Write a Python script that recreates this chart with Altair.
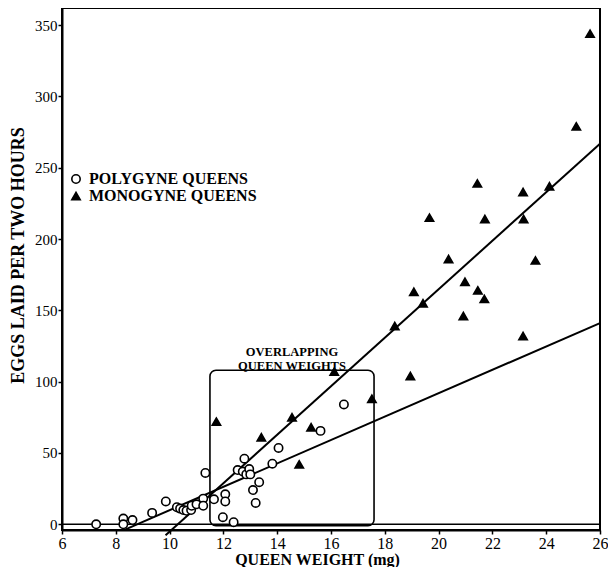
import altair as alt
import pandas as pd

# ---- data ----
poly_weight = [7.27, 8.28, 8.28, 8.62, 9.35, 9.86, 10.27, 10.39, 10.51, 10.63, 10.80, 10.82,
               11.00, 11.25, 11.25, 11.33, 11.65, 11.98, 12.07, 12.07, 12.38, 12.53, 12.72,
               12.85, 12.96, 13.00, 12.78, 13.10, 13.20, 13.33, 13.82, 14.05, 15.61, 16.48]
poly_eggs = [0, 4, 0, 3, 8, 16, 12, 11, 10, 9.5, 10, 13,
             14, 18, 13, 36, 17.5, 5, 21, 16, 1.5, 38, 37,
             35, 38.7, 35, 46, 24, 15, 29.5, 42.5, 53.5, 65.5, 84]

mono_weight = [11.74, 13.41, 14.55, 14.82, 15.26, 16.12, 17.52, 18.37, 18.95, 19.08, 19.42,
               19.66, 20.37, 20.92, 20.98, 21.44, 21.46, 21.70, 21.72, 23.14, 23.14, 23.16,
               23.60, 24.12, 25.12, 25.63]
mono_eggs = [72, 61, 75, 42, 68, 107, 88, 139, 104, 163, 155,
             215, 186, 146, 170, 239, 164, 158, 214, 233, 132, 214,
             185, 237, 279, 344]

groups = ["POLYGYNE QUEENS", "MONOGYNE QUEENS"]

# fitted lines (slope, intercept, x range)
fit_group = ["POLYGYNE QUEENS", "MONOGYNE QUEENS"]
fit_slope = [8.2, 17.0]
fit_intercept = [-72.1, -175.2]
fit_x_start = [8.3, 9.85]
fit_x_end = [26.0, 26.0]

# overlapping-weights box
box_x = [11.5]
box_x2 = [17.6]
box_y = [-1]
box_y2 = [108]
box_label = ["OVERLAPPING\nQUEEN WEIGHTS"]

x_ticks = list(range(6, 27))
y_ticks = [0, 50, 100, 150, 200, 250, 300, 350]

# ---- tables ----
pts = pd.DataFrame({
    "weight": poly_weight + mono_weight,
    "eggs": poly_eggs + mono_eggs,
    "group": [groups[0]] * len(poly_weight) + [groups[1]] * len(mono_weight),
})

fit_rows = []
for g, s, b, xa, xb in zip(fit_group, fit_slope, fit_intercept, fit_x_start, fit_x_end):
    fit_rows.append({"group": g, "slope": s, "intercept": b, "weight": xa})
    fit_rows.append({"group": g, "slope": s, "intercept": b, "weight": xb})
fits = pd.DataFrame(fit_rows)

box = pd.DataFrame({"x": box_x, "x2": box_x2, "y": box_y, "y2": box_y2, "label": box_label})
zero = pd.DataFrame({"y": [0]})

FONT = "Liberation Serif"

xscale = alt.Scale(domain=[6, 26], nice=False, zero=False)
yscale = alt.Scale(domain=[-4, 362], nice=False, zero=False)

xaxis = alt.Axis(values=x_ticks, labelExpr="datum.value % 2 == 0 ? datum.label : ''",
                 title="QUEEN WEIGHT (mg)", grid=False, tickSize=4, labelFlush=False,
                 titleX=255, titlePadding=0, labelFontSize=16, titleFontSize=16,
                 titleFontWeight="bold")
yaxis = alt.Axis(values=y_ticks, title="EGGS LAID PER TWO HOURS", grid=False, tickSize=4,
                 titleX=-35, titleY=247, labelFontSize=15, titleFontSize=18,
                 titleFontWeight="bold", labelFlush=False)

legend_cfg = dict(title=None, orient="none", legendX=6, legendY=163,
                  labelFont=FONT, labelFontSize=16, labelFontWeight="bold",
                  labelColor="black", symbolStrokeWidth=1.6, symbolSize=70,
                  rowPadding=1, labelOffset=5, labelLimit=400)

points = alt.Chart(pts).mark_point(filled=True, strokeWidth=1.6, size=70, opacity=1).encode(
    x=alt.X("weight:Q", scale=xscale, axis=xaxis),
    y=alt.Y("eggs:Q", scale=yscale, axis=yaxis),
    shape=alt.Shape("group:N", scale=alt.Scale(domain=groups, range=["circle", "triangle-up"]),
                    legend=alt.Legend(**legend_cfg)),
    fill=alt.Fill("group:N", scale=alt.Scale(domain=groups, range=["white", "black"]),
                  legend=alt.Legend(**legend_cfg)),
    stroke=alt.Stroke("group:N", scale=alt.Scale(domain=groups, range=["black", "black"]),
                      legend=alt.Legend(**legend_cfg)),
)

lines = alt.Chart(fits).transform_calculate(
    eggs="datum.slope * datum.weight + datum.intercept"
).mark_line(color="black", strokeWidth=2).encode(
    x=alt.X("weight:Q", scale=xscale),
    y=alt.Y("eggs:Q", scale=yscale),
    detail="group:N",
)

zero_rule = alt.Chart(zero).mark_rule(color="black", strokeWidth=1.5).encode(
    y=alt.Y("y:Q", scale=yscale),
)

rect = alt.Chart(box).mark_rect(filled=False, stroke="black", strokeWidth=1.6, cornerRadius=6).encode(
    x=alt.X("x:Q", scale=xscale), x2="x2:Q",
    y=alt.Y("y:Q", scale=yscale), y2="y2:Q",
)

rect_text = alt.Chart(box).transform_calculate(
    xm="(datum.x + datum.x2) / 2"
).mark_text(font=FONT, fontSize=12.5, fontWeight="bold", baseline="bottom", align="center",
            dy=-11, lineBreak="\n", lineHeight=14, color="black").encode(
    x=alt.X("xm:Q", scale=xscale),
    y=alt.Y("y2:Q", scale=yscale),
    text="label:N",
)

chart = alt.layer(zero_rule, rect, lines, points, rect_text).properties(
    width=538, height=522,
    autosize=alt.AutoSizeParams(type="none"),
    padding={"left": 54, "top": 0, "right": 8, "bottom": 37},
).configure_view(
    stroke="black", strokeWidth=2
).configure_axis(
    labelFont=FONT, titleFont=FONT,
    labelColor="black", titleColor="black", domainColor="black", tickColor="black",
    domainWidth=2, tickWidth=1.5, labelPadding=1,
)

chart.save("out.html", embed_options={"renderer": "svg", "actions": False})
